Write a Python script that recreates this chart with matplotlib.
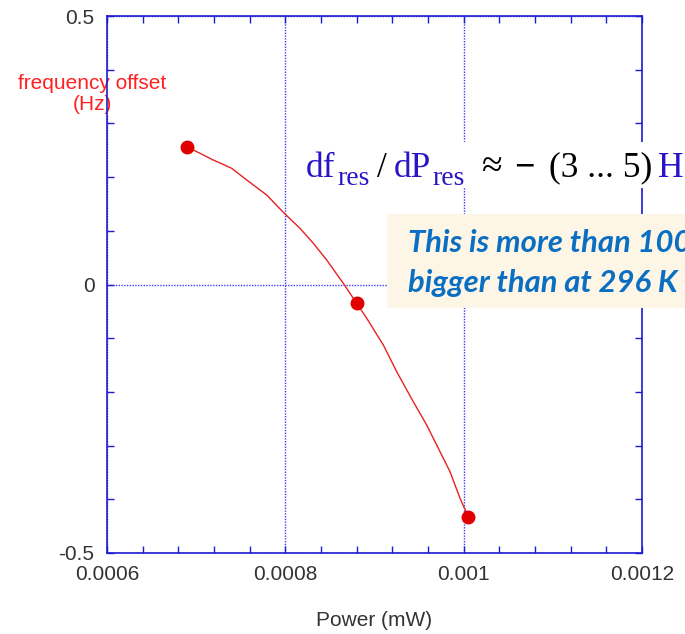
import numpy as np
import matplotlib
matplotlib.use("Agg")
import matplotlib.pyplot as plt
from matplotlib.patches import Rectangle
from matplotlib.ticker import MultipleLocator

# measured points (power in mW, frequency offset in Hz)
power = [0.0006894, 0.00088, 0.0010052]
offset = [0.2566, -0.035, -0.4324]

# fitted curve
fit_power = [0.0006894, 0.0007043, 0.0007192, 0.0007398, 0.0007567, 0.0007791,
             0.0007988, 0.0008164, 0.0008314, 0.0008464, 0.000865, 0.00088,
             0.0008913, 0.0009099, 0.0009249, 0.0009435, 0.0009585, 0.0009735,
             0.0009847, 0.0009959, 0.0010052]
fit_offset = [0.2566, 0.2443, 0.2318, 0.2164, 0.1946, 0.1667, 0.1326, 0.1047,
              0.0767, 0.0456, 0.0022, -0.035, -0.0629, -0.1127, -0.1624,
              -0.2183, -0.2616, -0.3114, -0.3486, -0.3981, -0.4324]

xticks = [0.0006, 0.0008, 0.001, 0.0012]
xticklabels = ["0.0006", "0.0008", "0.001", "0.0012"]
yticks = [-0.5, 0, 0.5]
yticklabels = ["-0.5", "0", "0.5"]

W, H = 685, 634
spine_col = "#1c1cd0"
blue_txt = "#2b14c8"

plt.rcParams["font.family"] = ["Liberation Sans", "DejaVu Sans"]

fig = plt.figure(figsize=(W / 100, H / 100), dpi=100)
ax = fig.add_axes([107 / W, 81 / H, 535 / W, 537 / H])

ax.plot(fit_power, fit_offset, color="#e82020", lw=1.0, zorder=3)
ax.plot(power, offset, "o", color="#e00000", ms=9, zorder=4)

ax.set_xlim(0.0006, 0.0012)
ax.set_ylim(-0.5, 0.5)
ax.set_xticks(xticks)
ax.set_xticklabels(xticklabels)
ax.set_yticks(yticks)
ax.set_yticklabels(yticklabels)
ax.xaxis.set_minor_locator(MultipleLocator(0.00004))
ax.yaxis.set_minor_locator(MultipleLocator(0.1))
ax.tick_params(which="both", direction="in", top=True, right=True,
               color=spine_col, width=1.0, length=5, labelcolor="#333333",
               labelsize=15, pad=9)
for s in ax.spines.values():
    s.set_color(spine_col)
    s.set_linewidth(1.2)
ax.grid(True, which="major", color="#3b3bff", ls=(0, (1, 1)), lw=1.0)

ax.set_xlabel("Power (mW)", fontsize=15, color="#333333", va="center")
ax.xaxis.set_label_coords(0.5, -0.125)
ax.set_ylabel("frequency offset\n(Hz)", fontsize=15, color="#ff2020",
              rotation=0, ha="center", va="center", multialignment="center",
              linespacing=1.15, bbox=dict(fc="white", ec="none", pad=1))
ax.yaxis.set_label_coords(-0.028, 0.855)

# equation, white background behind it
fig.patches.append(Rectangle((300 / W, 1 - 188 / H), 385 / W, 46 / H,
                             transform=fig.transFigure, fc="white", ec="none",
                             zorder=5))

def ftext(x, y, s, size, color, weight="normal"):
    fig.text(x / W, 1 - y / H, s, fontsize=size, color=color, va="baseline",
             fontweight=weight, family=["Liberation Serif", "DejaVu Serif"],
             zorder=6)

ftext(306, 176.5, "df", 25.5, blue_txt)
ftext(337, 185, "res", 20, blue_txt)
ftext(377, 176.5, "/", 25.5, "black")
ftext(394, 176.5, "dP", 25.5, blue_txt)
ftext(432, 185, "res", 20, blue_txt)
ftext(482, 176.5, "\u2248", 27, "black")
ftext(514, 176.5, "\u2212", 26, "black", "bold")
ftext(549, 176.5, "(3 ... 5)", 25.5, "black")
ftext(658, 176.5, "H", 25.5, blue_txt)

# note box
fig.patches.append(Rectangle((387 / W, 1 - 308 / H), 300 / W, 94 / H,
                             transform=fig.transFigure, fc="#fdf5e6", ec="none",
                             zorder=5))
for txt, yb in [("This is more than 100", 252), ("bigger than at 296 K", 292)]:
    fig.text(408 / W, 1 - yb / H, txt, fontsize=22.3, color="#0a6fc2",
             fontweight="bold", fontstyle="italic",
             family=["Lato", "DejaVu Sans"], va="baseline", zorder=6)

fig.savefig("out.png", dpi=100)
